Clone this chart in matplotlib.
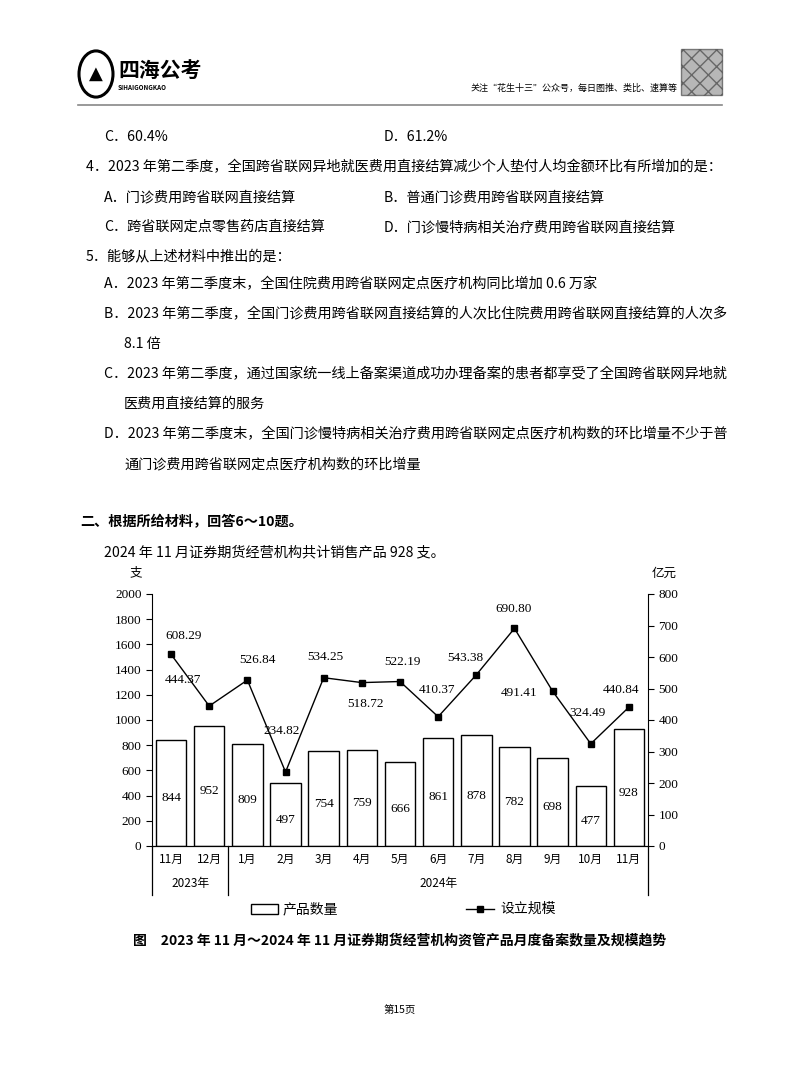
import matplotlib
matplotlib.use("Agg")
import matplotlib.pyplot as plt
from matplotlib.patches import Rectangle, Circle
from matplotlib.lines import Line2D

plt.rcParams['font.family'] = ['Noto Sans CJK SC', 'DejaVu Sans']

months = ['11月', '12月', '1月', '2月', '3月', '4月', '5月', '6月', '7月', '8月', '9月', '10月', '11月']
counts = [844, 952, 809, 497, 754, 759, 666, 861, 878, 782, 698, 477, 928]
scale = [608.29, 444.37, 526.84, 234.82, 534.25, 518.72, 522.19, 410.37, 543.38, 690.80, 491.41, 324.49, 440.84]
label_offsets = [(12, 18), (-26, 26), (10, 20), (-4, 41), (2, 21), (4, -21), (2, 20),
                 (-1, 27), (-11, 17), (-1, 19), (-34, -2), (-3, 31), (-8, 17)]

W, H = 800, 1086
fig = plt.figure(figsize=(8, 10.86), dpi=100)
fig.patch.set_facecolor('white')

def T(x, y, s, **kw):
    kw.setdefault('fontsize', 10.2)
    kw.setdefault('va', 'center')
    fig.text(x / W, 1 - y / H, s, **kw)

# header
fig.add_artist(Circle((96 / W, 1 - 74 / H), 17 / W, transform=fig.transFigure,
                      facecolor='white', edgecolor='black', lw=2.2))
T(96, 74, '▲', fontsize=13, ha='center', family=['DejaVu Sans'])
T(118, 70, '四海公考', fontsize=15, fontweight='bold')
T(118, 88, 'SIHAIGONGKAO', fontsize=4.5, fontweight='bold')
T(678, 88, '关注“花生十三”公众号，每日图推、类比、速算等', fontsize=6.5, ha='right')
fig.add_artist(Rectangle((681 / W, 1 - 95 / H), 41 / W, 46 / H, transform=fig.transFigure,
                         facecolor='#888888', edgecolor='#333333', hatch='xx', alpha=0.6))
fig.add_artist(Line2D([78 / W, 722 / W], [1 - 105 / H] * 2, color='#888888', lw=1.2, transform=fig.transFigure))

# body text
T(104, 137, 'C．60.4%'); T(384, 137, 'D．61.2%')
T(86, 167, '4．2023 年第二季度，全国跨省联网异地就医费用直接结算减少个人垫付人均金额环比有所增加的是：')
T(104, 197, 'A．门诊费用跨省联网直接结算'); T(384, 197, 'B．普通门诊费用跨省联网直接结算')
T(104, 227, 'C．跨省联网定点零售药店直接结算'); T(384, 227, 'D．门诊慢特病相关治疗费用跨省联网直接结算')
T(86, 256, '5．能够从上述材料中推出的是：')
T(104, 284, 'A．2023 年第二季度末，全国住院费用跨省联网定点医疗机构同比增加 0.6 万家')
T(104, 314, 'B．2023 年第二季度，全国门诊费用跨省联网直接结算的人次比住院费用跨省联网直接结算的人次多')
T(124, 344, '8.1 倍')
T(104, 374, 'C．2023 年第二季度，通过国家统一线上备案渠道成功办理备案的患者都享受了全国跨省联网异地就')
T(124, 404, '医费用直接结算的服务')
T(104, 434, 'D．2023 年第二季度末，全国门诊慢特病相关治疗费用跨省联网定点医疗机构数的环比增量不少于普')
T(124, 464, '通门诊费用跨省联网定点医疗机构数的环比增量')
T(80, 522, '二、根据所给材料，回答6～10题。', fontweight='bold')
T(104, 552, '2024 年 11 月证券期货经营机构共计销售产品 928 支。')
T(130, 573, '支', fontsize=9)
T(652, 573, '亿元', fontsize=9)

# chart
ax = fig.add_axes([152 / W, 1 - 846 / H, 496 / W, 252 / H])
x = list(range(len(months)))
ax.bar(x, counts, width=0.8, facecolor='white', edgecolor='black', linewidth=1.0)
for xi, c in zip(x, counts):
    ax.text(xi, c / 2 - 40, str(c), ha='center', va='center', fontsize=9.5, family=['Liberation Serif'])
ax.set_xlim(-0.5, len(months) - 0.5)
ax.set_ylim(0, 2000)
ax.set_yticks(range(0, 2001, 200))
ax.set_xticks([])
ax.spines['top'].set_visible(False)
ax.spines['right'].set_visible(False)
ax.tick_params(axis='y', labelsize=9.5, direction='out', length=4)
for lab in ax.get_yticklabels():
    lab.set_family(['Liberation Serif'])

ax2 = ax.twinx()
ax2.plot(x, scale, color='black', lw=1.0, marker='s', markersize=4)
for xi, v, (dx, dy) in zip(x, scale, label_offsets):
    ax2.annotate(f'{v:.2f}', (xi, v), xytext=(dx, dy), textcoords='offset pixels',
                 ha='center', va='center', fontsize=9.5, family=['Liberation Serif'])
ax2.set_ylim(0, 800)
ax2.set_yticks(range(0, 801, 100))
ax2.spines['top'].set_visible(False)
ax2.spines['left'].set_visible(False)
ax2.tick_params(axis='y', labelsize=9.5, direction='out', length=4)
for lab in ax2.get_yticklabels():
    lab.set_family(['Liberation Serif'])

# category axis labels
for xi, m in zip(x, months):
    px = 152 + (xi + 0.5) * 496 / 13
    T(px, 859, m, fontsize=8.5, ha='center')
T(152 + 496 / 13, 884, '2023年', fontsize=8.5, ha='center')
T(152 + 7.5 * 496 / 13, 884, '2024年', fontsize=8.5, ha='center')
for px in [152, 152 + 2 * 496 / 13, 648]:
    fig.add_artist(Line2D([px / W] * 2, [1 - 846 / H, 1 - 895 / H], color='black', lw=0.9,
                          transform=fig.transFigure))

# legend
fig.add_artist(Rectangle((251 / W, 1 - 914 / H), 27 / W, 10 / H, transform=fig.transFigure,
                         facecolor='white', edgecolor='black', lw=1.0))
T(283, 909, '产品数量', fontsize=10)
fig.add_artist(Line2D([466 / W, 494 / W], [1 - 909 / H] * 2, color='black', lw=1.0,
                      transform=fig.transFigure))
fig.add_artist(Line2D([480 / W], [1 - 909 / H], color='black', marker='s', markersize=4,
                      transform=fig.transFigure))
T(500, 909, '设立规模', fontsize=10)

T(400, 940, '图　2023 年 11 月～2024 年 11 月证券期货经营机构资管产品月度备案数量及规模趋势',
  fontsize=10, fontweight='bold', ha='center')
T(400, 1010, '第15页', fontsize=7.5, ha='center')

fig.savefig('out.png', dpi=100, facecolor='white')
